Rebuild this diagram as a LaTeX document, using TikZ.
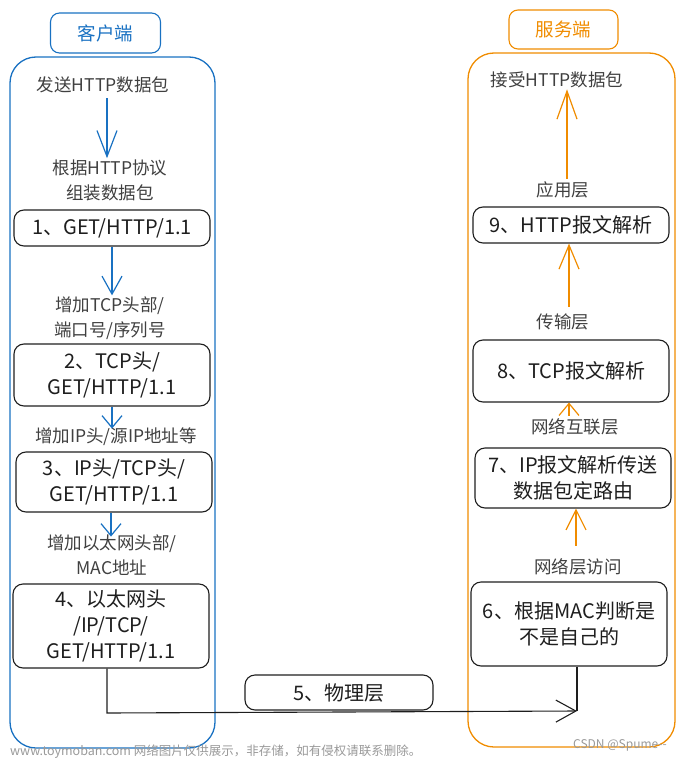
\documentclass[tikz,border=0pt]{standalone}
\usepackage{fontspec}
\setmainfont{Noto Sans CJK SC}
\usetikzlibrary{arrows.meta}
\definecolor{eblue}{HTML}{1971C2}
\definecolor{eorange}{HTML}{F08C00}
\definecolor{eblack}{HTML}{1E1E1E}
\begin{document}
\begin{tikzpicture}[x=1pt,y=-1pt,
  box/.style={draw=eblack, line width=1.1pt, rounded corners=10pt, align=center, inner sep=0pt,
    font=\fontsize{20}{26}\selectfont, text=eblack},
  lbl/.style={align=center, inner sep=1pt, font=\fontsize{17.5}{25}\selectfont, text=eblack!85},
  title/.style={draw, line width=1.1pt, rounded corners=9pt, minimum width=110pt, minimum height=40pt,
    font=\fontsize{18.5}{20}\selectfont},
  cont/.style={draw, line width=1.3pt, rounded corners=26pt, inner sep=0pt},
  barb/.style={-{Straight Barb[length=#1, width=20pt, line width=1.2pt]}, line width=1.2pt},
  wmark/.style={text=black!40, inner sep=0pt}
]
\useasboundingbox (0,0) rectangle (683,762);

% containers and titles
\node[cont, draw=eblue, minimum width=205pt, minimum height=691pt] (cbox) at (112.5,402.5) {};
\node[cont, draw=eorange, minimum width=207pt, minimum height=694pt] (sbox) at (571.5,400) {};
\node[title, draw=eblue, text=eblue] (ct) at (105.5,33) {客户端};
\node[title, draw=eorange, text=eorange, minimum width=109pt, minimum height=39pt] (st) at (563.5,29.5) {服务端};

% client side
\node[lbl] (c0) at (103,85) {发送HTTP数据包};
\node[lbl] (c1) at (110,180) {根据HTTP协议\\组装数据包};
\node[box, minimum width=196pt, minimum height=36pt] (b1) at (112,228) {1、GET/HTTP/1.1};
\node[lbl] (c2) at (110,318) {增加TCP头部/\\端口号/序列号};
\node[box, minimum width=196pt, minimum height=62pt] (b2) at (112,375) {2、TCP头/\\GET/HTTP/1.1};
\node[lbl] (c3) at (116,437) {增加IP头/源IP地址等};
\node[box, minimum width=196pt, minimum height=60pt] (b3) at (114,482) {3、IP头/TCP头/\\GET/HTTP/1.1};
\node[lbl] (c4) at (112,555) {增加以太网头部/\\MAC地址};
\node[box, minimum width=196pt, minimum height=84pt] (b4) at (111,626) {4、以太网头\\/IP/TCP/\\GET/HTTP/1.1};

\draw[barb=26pt, eblue] (c0.south) ++(4,4) coordinate (a0s) -- (a0s |- c1.north);
\draw[barb=18pt, eblue] (b1.south) -- (b1.south |- c2.north);
\draw[barb=12pt, eblue] (b2.south) -- ++(0,22) coordinate (a2e);
\draw[barb=12pt, eblue] (b3.south) ++(-3,0) coordinate (a3s) -- ++(0,24);

% physical layer
\node[box, minimum width=188pt, minimum height=35pt] (b5) at (339,692.5) {5、物理层};

% server side
\node[box, minimum width=196pt, minimum height=84pt] (b6) at (569,624) {6、根据MAC判断是\\不是自己的};
\node[lbl] (s6) at (578,567) {网络层访问};
\node[box, minimum width=196pt, minimum height=60pt] (b7) at (573,478) {7、IP报文解析传送\\数据包定路由};
\node[lbl] (s7) at (575,427) {网络互联层};
\node[box, minimum width=196pt, minimum height=62pt] (b8) at (571,371) {8、TCP报文解析};
\node[lbl] (s8) at (563,322) {传输层};
\node[box, minimum width=196pt, minimum height=36pt] (b9) at (571,225) {9、HTTP报文解析};
\node[lbl] (s9) at (563,190) {应用层};
\node[lbl] (s10) at (557,80) {接受HTTP数据包};

\coordinate (b6s) at ([xshift=8pt]b6.south);
\coordinate (j6) at (b6s |- 0,711);
\draw[line width=1.1pt, eblack, -{Straight Barb[length=20pt, width=22pt, line width=1.1pt]}]
  (b4.south) ++(-4,0) coordinate (p4) -- (p4 |- 0,713) -- (j6);
\draw[line width=1.1pt, eblack] (b6s) -- (j6);

\draw[barb=20pt, eorange] (s6.north) ++(-2,-12) coordinate (a6s) -- (a6s |- b7.south);
\draw[barb=12pt, eorange] (s7.north) ++(-6,-2) coordinate (a7b) -- (a7b |- b8.south);
\draw[barb=24pt, eorange] (s8.north) ++(6,-6) coordinate (a8b) -- (a8b |- b9.south);
\draw[barb=28pt, eorange] (s9.north) ++(4,-2) coordinate (a9b) -- (a9b |- s10.south);

% watermarks
\node[wmark, anchor=west, font=\fontsize{12.5}{14}\selectfont] (wm1) at (10,752) {www.toymoban.com 网络图片仅供展示，非存储，如有侵权请联系删除。};
\node[wmark, anchor=west, font=\fontsize{12}{14}\selectfont] (wm2) at (573,745) {CSDN @Spume-{}-};
\end{tikzpicture}
\end{document}
